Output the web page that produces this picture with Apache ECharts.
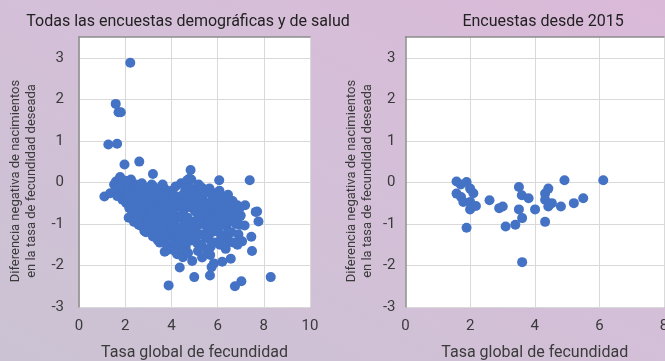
<!DOCTYPE html>
<html>
<head>
<meta charset="utf-8">
<script src="https://cdn.jsdelivr.net/npm/echarts@6/dist/echarts.min.js"></script>
<style>
  html, body { margin: 0; padding: 0; }
  body {
    width: 665px; height: 361px; overflow: hidden;
    background: linear-gradient(to bottom left, #dab9d8 0%, #d4bfd8 45%, #cbc3d3 100%);
  }
  #chart { width: 665px; height: 361px; }
</style>
</head>
<body>
<div id="chart"></div>
<script>
// Panel titles and axis texts
const panelTitles = ['Todas las encuestas demográficas y de salud', 'Encuestas desde 2015'];
const xAxisTitle = 'Tasa global de fecundidad';
const yAxisTitle = ['Diferencia negativa de nacimientos', 'en la tasa de fecundidad deseada'];

// Axis ranges
const yRange = [-3, 3.5];
const yStep = 1;
const xRangeAll = [0, 10];
const xRangeRecent = [0, 8];
const xStep = 2;

// [total fertility rate, gap to wanted fertility] for every DHS survey
const allSurveys = [
  [2.22,2.88],[1.59,1.89],[1.71,1.69],[1.81,1.69],[1.27,0.91],[1.65,0.93],[1.97,0.43],[2.61,0.50],
  [3.20,0.20],[4.83,0.30],[4.78,0.09],[4.86,0.07],[6.07,0.05],[7.39,0.05],[1.78,0.13],[2.25,0.07],
  [1.10,-0.34],[1.35,-0.26],[3.60,-0.10],[5.32,-0.13],[7.19,-0.55],[7.71,-0.70],[7.77,-0.94],[7.46,-1.31],
  [7.49,-1.65],[8.30,-2.28],[7.03,-2.38],[6.75,-2.50],[3.88,-2.48],[4.99,-2.28],[5.67,-2.24],[5.74,-2.04],
  [4.36,-2.05],[4.90,-1.89],[5.33,-1.81],[6.57,-1.84],[6.20,-1.91],[3.71,-1.67],[3.86,-1.62],[4.25,-1.73],
  [4.50,-1.80],[6.94,-1.39],[7.06,-1.42],[6.86,-1.50],[5.55,-1.64],[6.51,-1.42],[6.97,-1.02],[7.17,-1.04],
  [7.65,-0.71],[6.78,-0.71],[5.91,-0.27],[5.84,-1.95],[4.61,-1.71],[3.23,-0.18],[4.60,-0.18],[5.99,-0.27],
  [2.65,-1.03],[2.83,-1.17],[3.38,-1.35],[3.50,-1.45],[6.49,-1.43],[6.42,-0.75],
  [1.52,-0.05],[1.60,0.02],[1.70,-0.12],[1.75,0.08],[1.58,-0.20],[1.82,-0.28],[1.66,-0.33],[1.90,-0.02],
  [1.95,-0.18],[1.88,-0.42],[1.85,-0.10],[2.00,-0.38],
  [2.02,0.04],[2.08,-0.30],[2.12,-0.15],[2.05,-0.50],[2.18,-0.62],[2.22,-0.08],[2.28,-0.40],[2.35,-0.22],
  [2.30,-0.75],[2.40,-0.55],[2.15,-0.85],[2.45,-0.05],[2.38,-0.95],[2.20,-0.30],[2.40,-0.25],
  [2.50,-0.30],[2.55,-0.70],[2.60,-0.15],[2.62,-0.50],[2.68,-0.88],[2.70,-1.05],[2.75,-0.30],[2.78,-0.65],
  [2.82,-0.12],[2.85,-0.45],[2.88,-0.95],[2.90,-1.20],[2.58,-1.02],[2.72,-0.02],[2.50,-0.85],[2.65,-0.30],
  [2.95,-0.40],[2.95,-0.80],
  [3.00,-0.25],[3.02,-0.60],[3.05,-0.85],[3.08,-1.10],[3.12,-0.40],[3.15,-0.05],[3.18,-0.72],[3.20,-1.30],
  [3.25,-0.95],[3.28,-0.20],[3.30,-0.55],[3.35,-1.15],[3.38,-0.80],[3.40,-0.35],[3.42,-1.40],[3.22,-0.10],
  [3.10,-0.60],[3.30,-1.00],[3.45,-0.60],[3.45,-0.15],
  [3.50,-0.60],[3.52,-1.00],[3.55,-0.25],[3.58,-1.25],[3.60,-0.80],[3.65,-0.45],[3.68,-1.45],[3.70,-0.15],
  [3.72,-1.05],[3.78,-0.65],[3.80,-0.30],[3.82,-1.30],[3.85,-0.90],[3.88,-1.55],[3.90,-0.50],[3.62,-0.05],
  [3.60,-1.10],[3.75,-0.85],[3.75,-1.25],[3.95,-0.70],[3.95,-1.10],[3.55,-0.40],
  [4.00,-0.20],[4.02,-0.75],[4.05,-1.15],[4.08,-0.45],[4.10,-1.45],[4.12,-0.95],[4.18,-0.10],[4.20,-0.60],
  [4.22,-1.30],[4.25,-1.60],[4.28,-0.35],[4.30,-0.85],[4.35,-1.10],[4.38,-0.55],[4.40,-1.40],[4.42,-0.02],
  [4.15,-1.65],[4.10,-0.30],[4.15,-0.80],[4.30,-1.20],[4.45,-0.80],[4.45,-0.45],
  [4.50,-0.30],[4.52,-0.70],[4.55,-1.00],[4.58,-1.25],[4.60,-0.10],[4.62,-1.55],[4.65,-0.50],[4.70,-0.85],
  [4.72,-1.70],[4.75,-0.25],[4.78,-1.15],[4.80,-0.60],[4.85,-1.40],[4.88,-0.40],[4.90,-0.95],[4.68,0.05],
  [4.55,-1.45],[4.70,-0.40],[4.70,-1.05],[4.85,-0.15],[4.90,-1.25],[4.95,-0.55],
  [5.00,-0.20],[5.02,-0.70],[5.05,-1.10],[5.08,-0.45],[5.10,-1.45],[5.12,-0.90],[5.15,-1.65],[5.20,-0.30],
  [5.22,-0.60],[5.25,-1.25],[5.28,-0.80],[5.30,-1.50],[5.35,-0.40],[5.38,-1.00],[5.40,-0.65],[5.18,-0.05],
  [5.05,-1.30],[5.15,-0.55],[5.25,-1.00],[5.30,-0.20],[5.45,-0.50],[5.45,-1.30],
  [5.50,-0.25],[5.52,-0.75],[5.55,-1.10],[5.58,-0.50],[5.60,-1.35],[5.62,-0.90],[5.65,-0.15],[5.70,-1.55],
  [5.72,-0.65],[5.75,-1.20],[5.78,-0.40],[5.80,-0.95],[5.85,-1.45],[5.88,-0.30],[5.90,-0.75],[5.68,-1.75],
  [5.60,-0.60],[5.65,-1.00],[5.75,-0.25],[5.85,-0.55],[5.95,-1.10],[5.95,-0.90],
  [6.00,-0.45],[6.02,-0.85],[6.05,-1.20],[6.08,-0.20],[6.10,-1.50],[6.12,-0.65],[6.18,-1.00],[6.20,-0.35],
  [6.25,-1.30],[6.28,-0.80],[6.30,-0.50],[6.35,-1.60],[6.38,-1.05],[6.40,-0.70],
  [6.05,-0.65],[6.15,-1.35],[6.20,-0.55],[6.30,-0.95],[6.45,-1.20],[6.45,-0.30],
  [6.50,-0.45],[6.55,-0.90],[6.60,-1.20],[6.62,-0.65],[6.70,-1.45],[6.75,-0.75],[6.80,-1.00],[6.85,-0.55],
  [6.90,-1.25],[7.00,-0.80],[6.95,-0.62],[6.65,-0.45],[6.70,-0.95],[6.85,-0.80]
];

// Surveys carried out since 2015
const recentSurveys = [
  [1.58,0.02],[1.71,-0.05],[1.89,0.01],[1.58,-0.27],[1.72,-0.35],[1.79,-0.47],[2.00,-0.15],[2.10,-0.26],
  [2.00,-0.47],[2.00,-0.65],[2.18,-0.57],[1.89,-1.09],[2.60,-0.43],[2.90,-0.62],[3.01,-0.58],[3.10,-1.06],
  [3.40,-1.02],[3.51,-0.11],[3.60,-0.31],[3.51,-0.65],[3.61,-0.86],[3.81,-0.38],[3.61,-1.92],[4.01,-0.65],
  [4.32,-0.95],[4.32,-0.27],[4.42,-0.15],[4.32,-0.42],[4.42,-0.58],[4.53,-0.50],[4.81,-0.58],[4.92,0.05],
  [5.21,-0.50],[5.50,-0.38],[6.12,0.05]
];

const dotColor = '#4472c4';
const textColor = '#3a3a3a';
const gridColor = '#d9d9d9';
const axisColor = '#8c8c8c';

// Labelled x axis: ticks, vertical grid lines and name
function xAxisFor(gridIndex, range) {
  return {
    gridIndex, type: 'value', position: 'bottom', min: range[0], max: range[1], interval: xStep,
    name: xAxisTitle, nameLocation: 'middle', nameGap: 38,
    nameTextStyle: { fontFamily: 'Roboto', fontSize: 16, color: textColor },
    axisLine: { show: false }, axisTick: { show: false },
    axisLabel: { fontFamily: 'Roboto', fontSize: 15, color: textColor, margin: 12 },
    splitLine: { show: true, lineStyle: { color: gridColor, width: 1 } }
  };
}
// Bare x axis whose line crosses the y axis at zero, drawn beneath the dots
function zeroAxisFor(gridIndex, range) {
  return {
    gridIndex, type: 'value', position: 'top', min: range[0], max: range[1], interval: xStep,
    axisLine: { show: true, onZero: true, lineStyle: { color: axisColor, width: 1.5 } },
    axisTick: { show: false }, axisLabel: { show: false }, splitLine: { show: false }
  };
}
function yAxisFor(gridIndex, margin) {
  return {
    gridIndex, type: 'value', min: yRange[0], max: yRange[1], interval: yStep,
    axisLine: { show: true, onZero: false, lineStyle: { color: axisColor, width: 1.5 } },
    axisTick: { show: false },
    axisLabel: { fontFamily: 'Roboto', fontSize: 15, color: textColor, margin, showMaxLabel: false },
    splitLine: { show: true, showMaxLine: false, lineStyle: { color: gridColor, width: 1 } }
  };
}
function scatterFor(xIdx, yIdx, data) {
  return {
    type: 'scatter', xAxisIndex: xIdx, yAxisIndex: yIdx, data,
    symbolSize: 10, itemStyle: { color: dotColor, opacity: 1 }
  };
}
function yTitle(x) {
  return {
    type: 'text', x, y: 181, rotation: Math.PI / 2,
    style: {
      text: yAxisTitle.join('\n'), fill: textColor, font: '13px Roboto',
      textAlign: 'center', textVerticalAlign: 'top', lineHeight: 16
    }
  };
}

const chart = echarts.init(document.getElementById('chart'), null, { renderer: 'canvas' });
chart.setOption({
  backgroundColor: 'transparent',
  animation: false,
  title: [
    { text: panelTitles[0], left: 183, top: 9, textAlign: 'center',
      textStyle: { fontFamily: 'Roboto', fontSize: 16, fontWeight: 'normal', color: '#222' } },
    { text: panelTitles[1], left: 538, top: 9, textAlign: 'center',
      textStyle: { fontFamily: 'Roboto', fontSize: 16, fontWeight: 'normal', color: '#222' } }
  ],
  grid: [
    { left: 79, right: 355, top: 37, bottom: 54, show: true, backgroundColor: '#ffffff', borderWidth: 0,
      outerBoundsMode: 'none' },
    { left: 405.5, right: 1, top: 37, bottom: 54, show: true, backgroundColor: '#ffffff', borderWidth: 0,
      outerBoundsMode: 'none' }
  ],
  xAxis: [
    xAxisFor(0, xRangeAll), xAxisFor(1, xRangeRecent),
    zeroAxisFor(0, xRangeAll), zeroAxisFor(1, xRangeRecent)
  ],
  yAxis: [yAxisFor(0, 15), yAxisFor(1, 10)],
  series: [scatterFor(0, 0, allSurveys), scatterFor(1, 1, recentSurveys)],
  graphic: [yTitle(8), yTitle(344)]
});
</script>
</body>
</html>
